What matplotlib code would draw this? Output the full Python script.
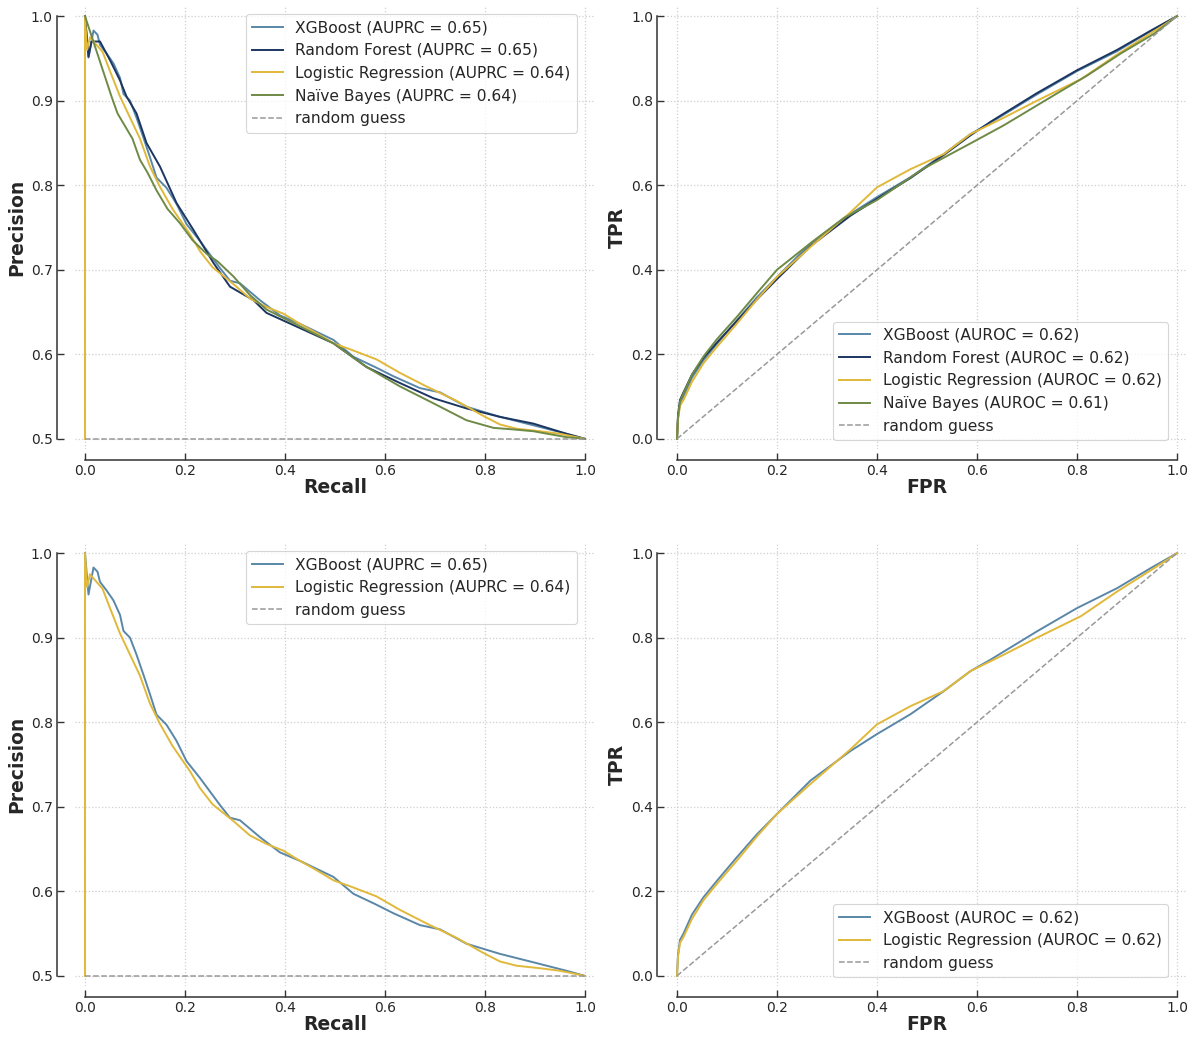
"""PR / ROC comparison grid (4 models top row, 2 models bottom row)."""

import matplotlib

matplotlib.use("Agg")
import matplotlib.pyplot as plt

# ---------------------------------------------------------------------------
# Curve data
# ---------------------------------------------------------------------------

XGB_RECALL = [0, 0.007, 0.017, 0.025, 0.03, 0.043, 0.057, 0.07, 0.077, 0.09,
              0.103, 0.117, 0.13, 0.143, 0.163, 0.183, 0.203, 0.23, 0.27, 0.29,
              0.31, 0.35, 0.39, 0.43, 0.497, 0.537, 0.58, 0.617, 0.67, 0.71,
              0.763, 0.83, 0.897, 0.963, 1.0]
XGB_PRECISION = [1.0, 0.951, 0.983, 0.978, 0.966, 0.956, 0.944, 0.927, 0.908, 0.9,
                 0.88, 0.856, 0.833, 0.809, 0.797, 0.778, 0.754, 0.734, 0.702, 0.687,
                 0.684, 0.664, 0.646, 0.636, 0.617, 0.597, 0.585, 0.574, 0.56, 0.555,
                 0.538, 0.526, 0.516, 0.506, 0.5]

RF_RECALL = [0, 0.007, 0.013, 0.03, 0.05, 0.07, 0.083, 0.103, 0.123, 0.15,
             0.183, 0.217, 0.257, 0.29, 0.337, 0.363, 0.43, 0.497, 0.563, 0.63,
             0.697, 0.763, 0.83, 0.897, 0.963, 1.0]
RF_PRECISION = [1.0, 0.952, 0.97, 0.97, 0.948, 0.924, 0.905, 0.885, 0.85, 0.822,
                0.779, 0.747, 0.708, 0.68, 0.664, 0.649, 0.631, 0.613, 0.585, 0.566,
                0.548, 0.536, 0.526, 0.518, 0.506, 0.5]

LR_RECALL = [0, 0, 0.004, 0.01, 0.023, 0.035, 0.05, 0.07, 0.09, 0.11,
             0.13, 0.15, 0.175, 0.21, 0.23, 0.255, 0.297, 0.33, 0.363, 0.397,
             0.43, 0.463, 0.497, 0.53, 0.583, 0.63, 0.683, 0.743, 0.797, 0.83,
             0.863, 0.91, 0.95, 1.0]
LR_PRECISION = [0.5, 1.0, 0.96, 0.975, 0.966, 0.958, 0.935, 0.905, 0.88, 0.855,
                0.822, 0.798, 0.772, 0.742, 0.722, 0.703, 0.683, 0.666, 0.656, 0.648,
                0.636, 0.625, 0.613, 0.606, 0.594, 0.578, 0.562, 0.545, 0.527, 0.517,
                0.512, 0.509, 0.506, 0.5]

NB_RECALL = [0, 0.053, 0.065, 0.077, 0.095, 0.11, 0.125, 0.143, 0.165, 0.19,
             0.215, 0.243, 0.265, 0.297, 0.33, 0.363, 0.43, 0.497, 0.563, 0.63,
             0.697, 0.763, 0.817, 0.86, 0.897, 0.963, 1.0]
NB_PRECISION = [1.0, 0.905, 0.885, 0.873, 0.855, 0.83, 0.815, 0.794, 0.772, 0.755,
                0.735, 0.719, 0.71, 0.692, 0.67, 0.653, 0.633, 0.613, 0.585, 0.562,
                0.542, 0.522, 0.513, 0.511, 0.509, 0.502, 0.5]

XGB_FPR = [0, 0.002, 0.006, 0.013, 0.03, 0.053, 0.08, 0.12, 0.16, 0.2, 0.267,
           0.347, 0.4, 0.467, 0.534, 0.587, 0.627, 0.72, 0.8, 0.88, 0.948, 1.0]
XGB_TPR = [0, 0.05, 0.085, 0.1, 0.145, 0.186, 0.225, 0.281, 0.335, 0.383, 0.462,
           0.532, 0.572, 0.619, 0.674, 0.721, 0.748, 0.815, 0.87, 0.917, 0.965, 1.0]

RF_FPR = [0, 0.002, 0.006, 0.013, 0.03, 0.053, 0.08, 0.12, 0.16, 0.2, 0.267,
          0.347, 0.4, 0.467, 0.534, 0.587, 0.627, 0.72, 0.8, 0.88, 0.948, 1.0]
RF_TPR = [0, 0.055, 0.092, 0.11, 0.152, 0.192, 0.228, 0.279, 0.33, 0.378, 0.456,
          0.528, 0.568, 0.617, 0.672, 0.718, 0.75, 0.818, 0.872, 0.92, 0.966, 1.0]

LR_FPR = [0, 0.002, 0.006, 0.013, 0.03, 0.053, 0.08, 0.12, 0.16, 0.2, 0.267,
          0.347, 0.4, 0.467, 0.534, 0.587, 0.654, 0.72, 0.808, 0.88, 0.975, 1.0]
LR_TPR = [0, 0.045, 0.078, 0.092, 0.135, 0.179, 0.218, 0.273, 0.33, 0.383, 0.454,
          0.536, 0.595, 0.638, 0.674, 0.721, 0.76, 0.8, 0.851, 0.909, 0.98, 1.0]

NB_FPR = [0, 0.002, 0.006, 0.013, 0.03, 0.053, 0.08, 0.12, 0.16, 0.2, 0.267,
          0.333, 0.4, 0.494, 0.587, 0.654, 0.754, 0.821, 0.888, 0.955, 1.0]
NB_TPR = [0, 0.05, 0.088, 0.108, 0.152, 0.195, 0.236, 0.289, 0.345, 0.4, 0.463,
          0.522, 0.565, 0.64, 0.699, 0.742, 0.813, 0.86, 0.912, 0.959, 1.0]

AUPRC = {"XGBoost": 0.65, "Random Forest": 0.65, "Logistic Regression": 0.64, "Naïve Bayes": 0.64}
AUROC = {"XGBoost": 0.62, "Random Forest": 0.62, "Logistic Regression": 0.62, "Naïve Bayes": 0.61}

COLORS = {
    "XGBoost": "#5a87a8",
    "Random Forest": "#1c3661",
    "Logistic Regression": "#e0b83a",
    "Naïve Bayes": "#6f8a45",
}
GUESS_COLOR = "#999999"
TEXT = "#262626"

PR_DATA = {
    "XGBoost": (XGB_RECALL, XGB_PRECISION),
    "Random Forest": (RF_RECALL, RF_PRECISION),
    "Logistic Regression": (LR_RECALL, LR_PRECISION),
    "Naïve Bayes": (NB_RECALL, NB_PRECISION),
}
ROC_DATA = {
    "XGBoost": (XGB_FPR, XGB_TPR),
    "Random Forest": (RF_FPR, RF_TPR),
    "Logistic Regression": (LR_FPR, LR_TPR),
    "Naïve Bayes": (NB_FPR, NB_TPR),
}

plt.rcParams.update({
    "font.family": "DejaVu Sans",
    "text.color": TEXT,
    "axes.labelcolor": TEXT,
    "xtick.color": TEXT,
    "ytick.color": TEXT,
})


def style_axes(ax, ylo, yhi, ymargin, left_offset):
    ax.set_xlim(-0.02, 1.02)
    ax.set_ylim(ylo - ymargin, yhi + ymargin)
    ax.grid(True, linestyle=":", color="#cfcfcf", linewidth=0.9)
    ax.set_axisbelow(True)
    for side in ("top", "right"):
        ax.spines[side].set_visible(False)
    ax.spines["left"].set_position(("outward", left_offset))
    ax.spines["bottom"].set_position(("outward", 8))
    ax.spines["left"].set_bounds(ylo, yhi)
    ax.spines["bottom"].set_bounds(0, 1)
    for side in ("left", "bottom"):
        ax.spines[side].set_color("#333333")
        ax.spines[side].set_linewidth(1.1)
    ax.set_xticks([0, 0.2, 0.4, 0.6, 0.8, 1.0])
    ax.tick_params(labelsize=10, length=5, width=1.0, color="#333333",
                   direction="in", pad=3)


def legend(ax, loc, anchor):
    leg = ax.legend(loc=loc, bbox_to_anchor=anchor, borderaxespad=0,
                    fontsize=11.2, frameon=True, fancybox=True, framealpha=0.8,
                    edgecolor="#cccccc", labelcolor=TEXT)
    leg.get_frame().set_linewidth(0.8)


def pr_panel(ax, models):
    for name in models:
        r, p = PR_DATA[name]
        ax.plot(r, p, color=COLORS[name], lw=1.4,
                label=f"{name} (AUPRC = {AUPRC[name]:.2f})")
    ax.plot([0, 1], [0.5, 0.5], "--", color=GUESS_COLOR, lw=1.1, label="random guess")
    style_axes(ax, 0.5, 1.0, 0.012, 13)
    ax.set_yticks([0.5, 0.6, 0.7, 0.8, 0.9, 1.0])
    ax.set_xlabel("Recall", fontsize=13.5, fontweight="bold", labelpad=0)
    ax.set_ylabel("Precision", fontsize=13.5, fontweight="bold", labelpad=3)
    legend(ax, "upper right", (0.965, 0.982))


def roc_panel(ax, models):
    for name in models:
        f, t = ROC_DATA[name]
        ax.plot(f, t, color=COLORS[name], lw=1.4,
                label=f"{name} (AUROC = {AUROC[name]:.2f})")
    ax.plot([0, 1], [0, 1], "--", color=GUESS_COLOR, lw=1.1, label="random guess")
    style_axes(ax, 0.0, 1.0, 0.024, 7)
    ax.set_yticks([0, 0.2, 0.4, 0.6, 0.8, 1.0])
    ax.set_xlabel("FPR", fontsize=13.5, fontweight="bold", labelpad=0)
    ax.set_ylabel("TPR", fontsize=13.5, fontweight="bold", labelpad=3)
    legend(ax, "lower right", (0.963, 0.02))


fig = plt.figure(figsize=(11.92, 10.37), dpi=100)
W, H = 1192, 1037


def add_axes(left_px, top_px, w_px=520, h_px=443):
    return fig.add_axes([left_px / W, 1 - (top_px + h_px) / H, w_px / W, h_px / H])


all_models = ["XGBoost", "Random Forest", "Logistic Regression", "Naïve Bayes"]
pair = ["XGBoost", "Logistic Regression"]

pr_panel(add_axes(75, 6), all_models)
roc_panel(add_axes(667, 6), all_models)
pr_panel(add_axes(75, 543), pair)
roc_panel(add_axes(667, 543), pair)

fig.savefig("out.png", dpi=100, facecolor="white")
